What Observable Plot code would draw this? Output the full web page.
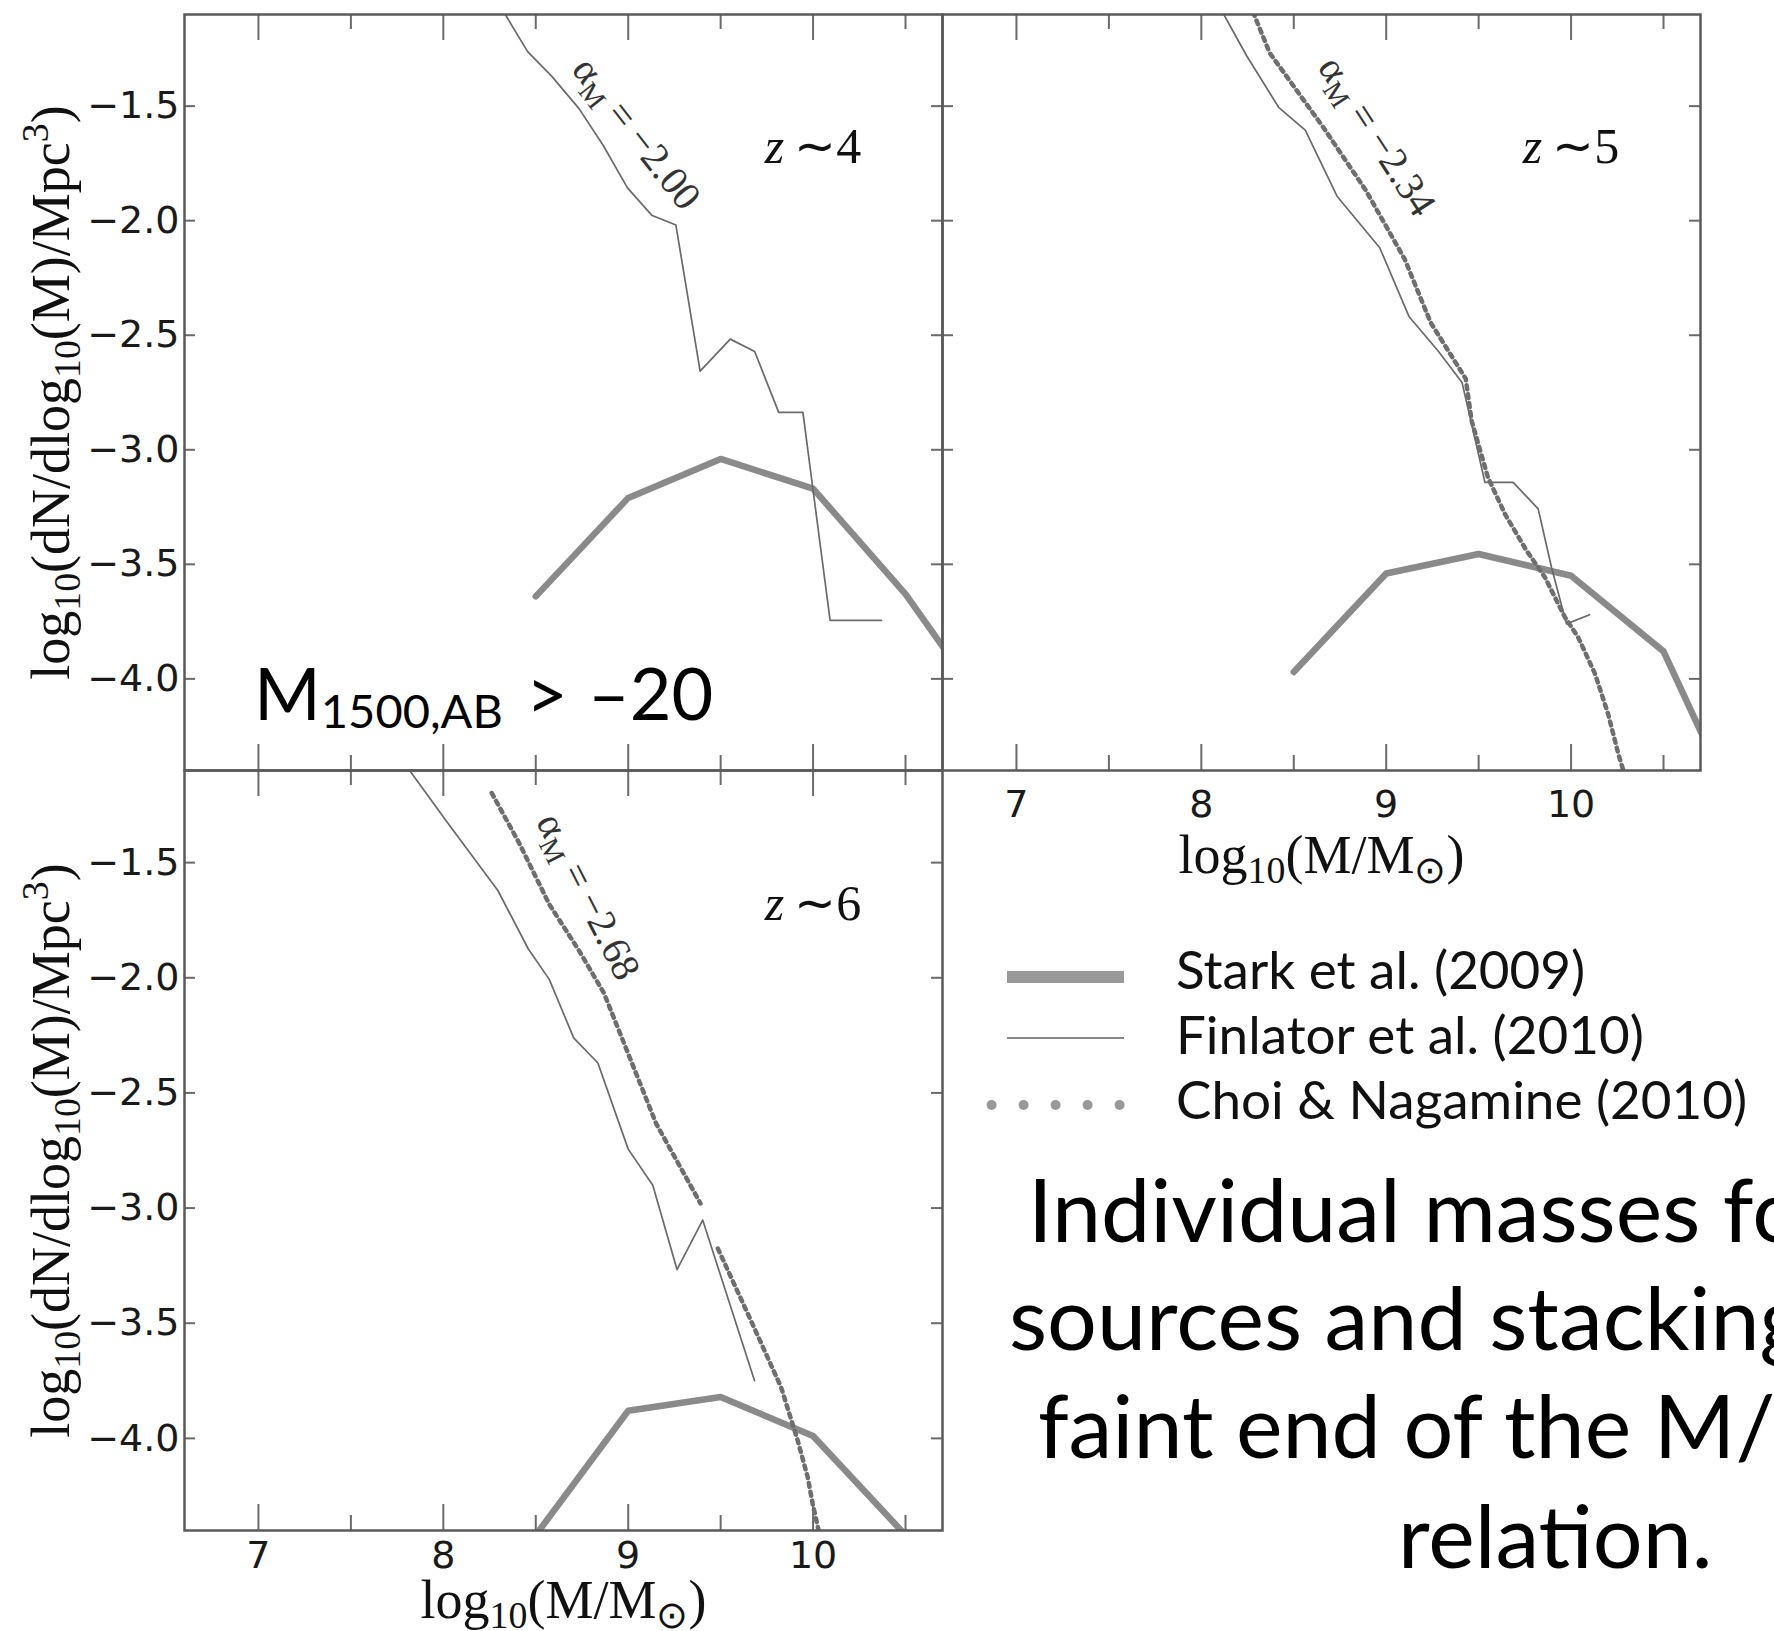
<!DOCTYPE html>
<html><head><meta charset="utf-8">
<script src="https://cdn.jsdelivr.net/npm/d3@7"></script>
<script src="https://cdn.jsdelivr.net/npm/@observablehq/plot@0.6"></script>
<style>
html,body{margin:0;padding:0;background:#fff;overflow:hidden;}
#root{position:relative;width:1774px;height:1631px;overflow:hidden;background:#fff;}
</style></head><body><div id="root"></div>
<script>
// ---------- data ----------
const xDomain = [6.6, 10.7];
const yDomain = [-4.4, -1.1];
const xMajor = [7, 8, 9, 10];
const xMinor = [7.5, 8.5, 9.5, 10.5];
const yTicks = [-1.5, -2.0, -2.5, -3.0, -3.5, -4.0];

const starkX  = [8.5, 9.0, 9.5, 10.0, 10.5, 11.0];
const starkZ4 = [-3.64, -3.21, -3.04, -3.17, -3.63, -4.20];
const starkZ5 = [-3.97, -3.54, -3.455, -3.55, -3.88, -4.75];
const starkZ6 = [-4.42, -3.88, -3.82, -3.99, -4.42];

const finlatorZ4X = [8.335, 8.456, 8.587, 8.734, 8.866, 8.996, 9.127, 9.258, 9.389, 9.552, 9.684, 9.814, 9.945, 10.092, 10.37];
const finlatorZ4Y = [-1.10, -1.262, -1.37, -1.511, -1.673, -1.857, -1.976, -2.019, -2.657, -2.517, -2.571, -2.837, -2.837, -3.745, -3.745];

const finlatorZ5X = [8.116, 8.245, 8.418, 8.562, 8.734, 8.965, 9.123, 9.281, 9.41, 9.534, 9.687, 9.822, 9.894, 9.975, 10.10];
const finlatorZ5Y = [-1.092, -1.28, -1.505, -1.605, -1.893, -2.118, -2.418, -2.569, -2.706, -3.142, -3.142, -3.258, -3.513, -3.76, -3.72];

const choiZ5X = [8.28, 8.37, 8.66, 8.89, 9.10, 9.24, 9.43, 9.462, 9.55, 9.642, 9.759, 9.858, 9.966, 10.038, 10.129, 10.2, 10.255, 10.29];
const choiZ5Y = [-1.09, -1.268, -1.593, -1.868, -2.168, -2.444, -2.69, -2.873, -3.12, -3.28, -3.44, -3.556, -3.73, -3.818, -3.977, -4.152, -4.326, -4.42];

const finlatorZ6X = [7.819, 8.016, 8.295, 8.459, 8.573, 8.705, 8.836, 9.0, 9.133, 9.264, 9.403, 9.683];
const finlatorZ6Y = [-1.101, -1.319, -1.621, -1.874, -2.007, -2.261, -2.37, -2.744, -2.901, -3.267, -3.052, -3.749];

const choiZ6X = [8.262, 8.41, 8.573, 8.737, 8.869, 9.151, 9.391, null, 9.485, 9.647, 9.827, 9.917, 9.971, 9.998, 10.03, 10.045];
const choiZ6Y = [-1.198, -1.415, -1.681, -1.886, -2.067, -2.633, -2.98, null, -3.176, -3.459, -3.778, -4.01, -4.169, -4.285, -4.40, -4.45];

const alphaLabels = ["α_{M} = −2.00", "α_{M} = −2.34", "α_{M} = −2.68"];
const alphaX = [9.045, 8.95, 8.784];
const alphaY = [-1.619, -1.631, -1.647];
const zLabels = ["*z*\u2009∼4", "*z*\u2009∼5", "*z*\u2009∼6"];
const zX = [10.0, 10.0, 10.0];
const zY = [-1.75, -1.75, -1.75];

const xLabel = "log_{10}(M/M_{⊙})";
const yLabel = "log_{10}(dN/dlog_{10}(M)/Mpc^{3})";
const legendLabels = ["Stark et al. (2009)", "Finlator et al. (2010)", "Choi & Nagamine (2010)"];
const captionLines = ["Individual masses for", "sources and stacking", "faint end of the M/L", "relation."];

// ---------- helpers ----------
const rows = (xs, ys) => xs.map((x, i) => ({x, y: ys[i] === undefined ? null : ys[i]}));
const fmt = d => d.toFixed(1).replace("-", "\u2212");
const alphaAngles = [52, 57, 63];

function richify(root) {
  const NS = "http://www.w3.org/2000/svg";
  root.querySelectorAll("text").forEach(t => {
    const s = t.textContent;
    if (!/[_^]\{|\*/.test(s)) return;
    const fs = parseFloat(getComputedStyle(t).fontSize);
    t.textContent = "";
    const re = /([_^])\{([^}]*)\}|\*([^*]+)\*/g;
    let last = 0, cur = 0, m;
    const add = (str, shift, opts = {}) => {
      if (!str) return;
      const ts = document.createElementNS(NS, "tspan");
      const d = shift - cur;
      if (d) ts.setAttribute("dy", d);
      cur = shift;
      if (opts.small) ts.setAttribute("font-size", fs * 0.7);
      if (opts.italic) ts.setAttribute("font-style", "italic");
      ts.textContent = str;
      t.appendChild(ts);
    };
    while ((m = re.exec(s))) {
      add(s.slice(last, m.index), 0);
      if (m[1]) add(m[2], m[1] === "_" ? 0.2 * fs : -0.38 * fs, {small: true});
      else add(m[3], 0, {italic: true});
      last = re.lastIndex;
    }
    add(s.slice(last), 0);
  });
}

const STARK = {stroke: "#8a8a8a", strokeWidth: 6.5, strokeLinejoin: "round", clip: true};
const FINL = {stroke: "#6a6a6a", strokeWidth: 1.7, strokeLinejoin: "round", clip: true};
const CHOI = {stroke: "#6e6e6e", strokeWidth: 4.5, strokeDasharray: "4,5", clip: true};

function panel(cfg) {
  const {width, height, mt, mb, ml, mr, idx, stark, finl, choi, showX, showY, xPad, xLabDy} = cfg;
  const pw = width - ml - mr, ph = height - mt - mb;
  const T = {stroke: "#6a6a6a", strokeWidth: 2};
  const marks = [
    Plot.tickY(yTicks, {y: d => d, insetRight: pw - 11, ...T}),
    Plot.tickY(yTicks, {y: d => d, insetLeft: pw - 11, ...T}),
    Plot.tickX(xMajor, {x: d => d, insetBottom: ph - 26, ...T}),
    Plot.tickX(xMajor, {x: d => d, insetTop: ph - 26, ...T}),
    Plot.tickX(xMinor, {x: d => d, insetBottom: ph - 15, ...T}),
    Plot.tickX(xMinor, {x: d => d, insetTop: ph - 15, ...T}),
    Plot.line(rows(starkX, stark), {x: "x", y: "y", ...STARK}),
    Plot.line(rows(finl[0], finl[1]), {x: "x", y: "y", ...FINL}),
  ];
  if (choi) marks.push(Plot.line(rows(choi[0], choi[1]), {x: "x", y: "y", ...CHOI}));
  marks.push(
    Plot.text([{x: alphaX[idx], y: alphaY[idx], t: alphaLabels[idx]}],
      {x: "x", y: "y", text: "t", rotate: alphaAngles[idx], fontSize: 40, fontFamily: "Liberation Serif", fill: "#333", lineAnchor: "middle", textAnchor: "middle"}),
    Plot.text([{x: zX[idx], y: zY[idx], t: zLabels[idx]}],
      {x: "x", y: "y", text: "t", fontSize: 50, fontFamily: "Liberation Serif", fill: "#111", lineAnchor: "bottom", textAnchor: "middle"}),
    Plot.frame({stroke: "#5a5a5a", strokeWidth: 2.5})
  );
  if (showY) marks.push(
    Plot.axisY(yTicks, {tickSize: 0, tickPadding: 5, tickFormat: fmt, fontSize: 38, fontFamily: "DejaVu Sans", label: null}),
    Plot.text([yLabel], {frameAnchor: "left", text: d => d, rotate: -90, dx: -133, fontSize: 54, fontFamily: "Liberation Serif", fill: "#111", lineAnchor: "middle", textAnchor: "middle"})
  );
  if (showX) marks.push(
    Plot.axisX(xMajor, {tickSize: 0, tickPadding: xPad, tickFormat: d => String(d), fontSize: 38, fontFamily: "DejaVu Sans", label: null}),
    Plot.text([xLabel], {frameAnchor: "bottom", text: d => d, dy: xLabDy, fontSize: 54, fontFamily: "Liberation Serif", fill: "#111", lineAnchor: "bottom", textAnchor: "middle"})
  );
  const svg = Plot.plot({
    width, height, marginTop: mt, marginBottom: mb, marginLeft: ml, marginRight: mr,
    x: {domain: xDomain, label: null, axis: showX ? undefined : null},
    y: {domain: yDomain, label: null, axis: showY ? undefined : null},
    style: {background: "transparent", fontFamily: "DejaVu Sans", fontSize: "38px", color: "#1a1a1a", overflow: "visible"},
    marks
  });
  svg.style.position = "absolute";
  svg.style.left = cfg.left + "px";
  svg.style.top = cfg.top + "px";
  document.getElementById("root").appendChild(svg);
  richify(svg);
  return svg;
}

panel({left: 0, top: 0, width: 952, height: 790, ml: 184, mr: 10, mt: 14, mb: 20, idx: 0,
  stark: starkZ4, finl: [finlatorZ4X, finlatorZ4Y], choi: null, showX: false, showY: true});
panel({left: 932, top: 0, width: 842, height: 900, ml: 10, mr: 74, mt: 14, mb: 130, idx: 1,
  stark: starkZ5, finl: [finlatorZ5X, finlatorZ5Y], choi: [choiZ5X, choiZ5Y], showX: true, showY: false, xPad: 20, xLabDy: 102});
panel({left: 0, top: 760, width: 952, height: 871, ml: 184, mr: 10, mt: 10, mb: 101, idx: 2,
  stark: starkZ6, finl: [finlatorZ6X, finlatorZ6Y], choi: [choiZ6X, choiZ6Y], showX: true, showY: true, xPad: 11, xLabDy: 87});

// ---------- overlay: annotation, legend, caption ----------
const ov = d3.select("#root").append("svg")
  .attr("width", 1774).attr("height", 1631)
  .style("position", "absolute").style("left", "0px").style("top", "0px")
  .style("font-family", "Lato");

const mt = ov.append("text").attr("x", 254).attr("y", 720).attr("font-size", 72).attr("fill", "#000");
mt.append("tspan").text("M");
mt.append("tspan").attr("font-size", 47).attr("dy", 8).text("1500,AB");
mt.append("tspan").attr("x", 526).attr("dy", -8).text(">");
mt.append("tspan").attr("x", 588).text("–20");

const lg = ov.append("g");
lg.append("rect").attr("x", 1007).attr("y", 971).attr("width", 117).attr("height", 12).attr("fill", "#999");
lg.append("line").attr("x1", 1007).attr("x2", 1124).attr("y1", 1038).attr("y2", 1038).attr("stroke", "#888").attr("stroke-width", 2);
lg.selectAll("circle").data([0, 1, 2, 3, 4]).join("circle")
  .attr("cx", i => 991.6 + i * 32).attr("cy", 1105).attr("r", 5).attr("fill", "#999");
lg.selectAll("text").data(legendLabels).join("text")
  .attr("x", 1176).attr("y", (d, i) => [988.6, 1053.8, 1119][i])
  .attr("font-size", 53).attr("fill", "#111").text(d => d);

ov.append("g").selectAll("text").data(captionLines).join("text")
  .attr("x", (d, i) => [1028, 1009, 1038, 1398][i])
  .attr("y", (d, i) => [1242, 1350, 1458, 1568][i])
  .attr("font-size", 88).attr("fill", "#000").text(d => d);
</script></body></html>
